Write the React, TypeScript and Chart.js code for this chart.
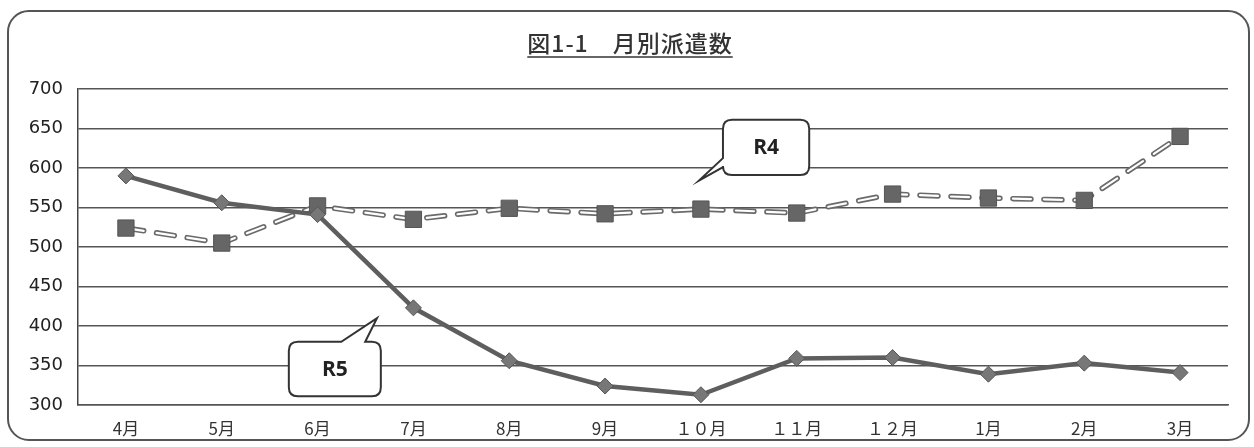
import React, { useEffect, useRef } from "react";
import { Chart, registerables } from "chart.js";

Chart.register(...registerables);

const months = ["4月", "5月", "6月", "7月", "8月", "9月", "１０月", "１１月", "１２月", "1月", "2月", "3月"];
const r5Values = [590, 556, 541, 423, 356, 324, 313, 359, 360, 339, 353, 341];
const r4Values = [524, 505, 552, 535, 549, 542, 548, 543, 567, 562, 559, 640];
const yTicks = [300, 350, 400, 450, 500, 550, 600, 650, 700];
const titleText = "図1-1　月別派遣数";

// Callout annotations anchored in data space (category index, value)
const callouts = [
  { label: "R4", x0: 6.23, x1: 7.13, yTop: 661, yBot: 591, tipX: 5.98, tipY: 584, side: "left" },
  { label: "R5", x0: 1.7, x1: 2.66, yTop: 380, yBot: 311, tipX: 2.62, tipY: 410, side: "top" },
];

const FONT = "'Noto Sans CJK JP', 'Noto Sans', sans-serif";

const titlePlugin = {
  id: "underlinedTitle",
  afterDraw(chart: any) {
    const ctx = chart.ctx as CanvasRenderingContext2D;
    ctx.save();
    ctx.font = `500 23px ${FONT}`;
    (ctx as any).letterSpacing = "1px";
    ctx.fillStyle = "#333";
    ctx.textAlign = "center";
    ctx.textBaseline = "middle";
    const cx = 630;
    const cy = 43;
    ctx.fillText(titleText, cx, cy);
    const w = ctx.measureText(titleText).width;
    ctx.strokeStyle = "#333";
    ctx.lineWidth = 1.5;
    ctx.beginPath();
    ctx.moveTo(cx - w / 2, cy + 14);
    ctx.lineTo(cx + w / 2, cy + 14);
    ctx.stroke();
    ctx.restore();
  },
};

const calloutPlugin = {
  id: "callouts",
  afterDraw(chart: any) {
    const ctx = chart.ctx as CanvasRenderingContext2D;
    const xs = chart.scales.x;
    const ys = chart.scales.y;
    ctx.save();
    for (const c of callouts) {
      const left = xs.getPixelForValue(c.x0);
      const right = xs.getPixelForValue(c.x1);
      const top = ys.getPixelForValue(c.yTop);
      const bot = ys.getPixelForValue(c.yBot);
      const tx = xs.getPixelForValue(c.tipX);
      const ty = ys.getPixelForValue(c.tipY);
      const w = right - left;
      const h = bot - top;
      const r = 9;
      ctx.beginPath();
      if (c.side === "left") {
        ctx.moveTo(left + r, top);
        ctx.lineTo(right - r, top);
        ctx.quadraticCurveTo(right, top, right, top + r);
        ctx.lineTo(right, bot - r);
        ctx.quadraticCurveTo(right, bot, right - r, bot);
        ctx.lineTo(left + r, bot);
        ctx.quadraticCurveTo(left, bot, left, bot - r);
        ctx.lineTo(left, bot - 8);
        ctx.lineTo(tx, ty);
        ctx.lineTo(left, bot - 17);
        ctx.lineTo(left, top + r);
        ctx.quadraticCurveTo(left, top, left + r, top);
      } else {
        ctx.moveTo(left + r, top);
        ctx.lineTo(left + w * 0.57, top);
        ctx.lineTo(tx, ty);
        ctx.lineTo(left + w * 0.83, top);
        ctx.lineTo(right - r, top);
        ctx.quadraticCurveTo(right, top, right, top + r);
        ctx.lineTo(right, bot - r);
        ctx.quadraticCurveTo(right, bot, right - r, bot);
        ctx.lineTo(left + r, bot);
        ctx.quadraticCurveTo(left, bot, left, bot - r);
        ctx.lineTo(left, top + r);
        ctx.quadraticCurveTo(left, top, left + r, top);
      }
      ctx.closePath();
      ctx.fillStyle = "#ffffff";
      ctx.fill();
      ctx.strokeStyle = "#333";
      ctx.lineWidth = 2;
      ctx.stroke();
      ctx.fillStyle = "#222";
      ctx.font = `bold 21px 'Open Sans', 'Liberation Sans', sans-serif`;
      ctx.textAlign = "center";
      ctx.textBaseline = "middle";
      ctx.fillText(c.label, left + w / 2, top + h / 2 + 1);
    }
    ctx.restore();
  },
};

export default function App() {
  const ref = useRef<HTMLCanvasElement | null>(null);
  useEffect(() => {
    if (!ref.current) return;
    const chart = new Chart(ref.current, {
      type: "line",
      data: {
        labels: months,
        datasets: [
          {
            label: "R4 outline",
            data: r4Values,
            borderColor: "#6a6a6a",
            borderWidth: 5.5,
            borderDash: [18, 13],
            borderCapStyle: "round",
            pointRadius: 0,
            fill: false,
            order: 5,
          },
          {
            label: "R4 inner",
            data: r4Values,
            borderColor: "#ffffff",
            borderWidth: 2.2,
            borderDash: [18, 13],
            borderCapStyle: "round",
            pointRadius: 0,
            fill: false,
            order: 4,
          },
          {
            label: "R4",
            data: r4Values,
            showLine: false,
            pointStyle: "rect",
            pointRadius: 11.5,
            pointBackgroundColor: "#666666",
            pointBorderColor: "#555555",
            pointBorderWidth: 1,
            order: 3,
          },
          {
            label: "R5",
            data: r5Values,
            borderColor: "#5e5e5e",
            borderWidth: 4.5,
            pointStyle: "rectRot",
            pointRadius: 8,
            pointBackgroundColor: "#777777",
            pointBorderColor: "#555555",
            pointBorderWidth: 1,
            fill: false,
            order: 1,
          },
        ],
      },
      options: {
        animation: false,
        responsive: false,
        maintainAspectRatio: false,
        layout: { padding: { top: 89, right: 26, left: 0, bottom: 0 } },
        plugins: {
          legend: { display: false },
          title: { display: false },
          tooltip: { enabled: false },
        },
        scales: {
          x: {
            offset: true,
            grid: { display: false, drawTicks: false },
            border: { display: true, color: "#555", width: 1.5 },
            ticks: {
              color: "#333",
              font: { family: FONT, size: 17 },
              padding: 13,
              maxRotation: 0,
              autoSkip: false,
            },
            afterFit(scale: any) {
              scale.height = 42;
            },
          },
          y: {
            min: 300,
            max: 700,
            afterBuildTicks(scale: any) {
              scale.ticks = yTicks.map((v) => ({ value: v }));
            },
            grid: { color: "#555", lineWidth: 1.5, drawTicks: false },
            border: { display: true, color: "#444", width: 1.5 },
            ticks: {
              color: "#222",
              font: { family: "'DejaVu Sans', sans-serif", size: 18 },
              padding: 15,
            },
            afterFit(scale: any) {
              scale.width = 78;
            },
          },
        },
      },
      plugins: [titlePlugin, calloutPlugin],
    });
    return () => chart.destroy();
  }, []);

  return (
    <div style={{ position: "fixed", left: 0, top: 0, width: 1254, height: 447, background: "#fff" }}>
      <div
        style={{
          position: "absolute",
          left: 7,
          top: 10,
          width: 1243,
          height: 431,
          border: "2px solid #555",
          borderRadius: 22,
          boxSizing: "border-box",
        }}
      />
      <canvas ref={ref} width={1254} height={447} style={{ position: "absolute", left: 0, top: 0, width: 1254, height: 447 }} />
    </div>
  );
}
